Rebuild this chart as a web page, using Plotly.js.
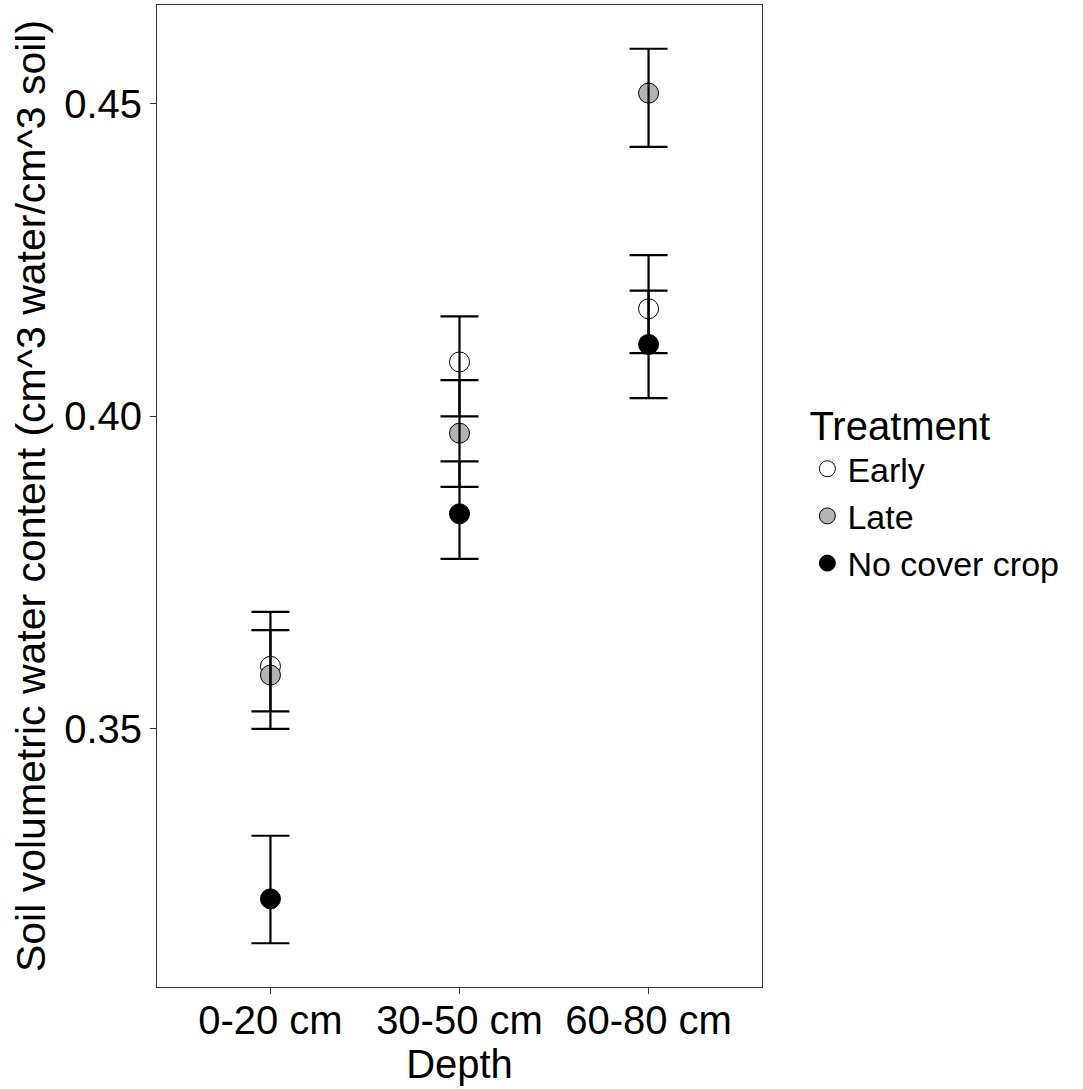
<!DOCTYPE html>
<html>
<head>
<meta charset="utf-8">
<script src="https://cdn.plot.ly/plotly-3.0.1.min.js"></script>
<style>html,body{margin:0;padding:0;background:#fff;}#chart{width:1083px;height:1089px;}</style>
</head>
<body>
<div id="chart"></div>
<script>
const depths = ['0-20 cm', '30-50 cm', '60-80 cm'];
const treatments = ['Early', 'Late', 'No cover crop'];
const earlyMean  = [0.3600, 0.4087, 0.4172];
const earlyUpper = [0.3687, 0.4160, 0.4258];
const earlyLower = [0.3528, 0.4000, 0.4101];
const lateMean   = [0.3586, 0.3973, 0.4517];
const lateUpper  = [0.3658, 0.4058, 0.4588];
const lateLower  = [0.3500, 0.3887, 0.4431];
const nccMean    = [0.3228, 0.3844, 0.4115];
const nccUpper   = [0.3329, 0.3928, 0.4201];
const nccLower   = [0.3157, 0.3772, 0.4029];
const yTicks = [0.35, 0.40, 0.45];
const yTickText = ['0.35', '0.40', '0.45'];

const fills = ['#ffffff', '#b3b3b3', '#000000'];
const series = [
  {mean: earlyMean, up: earlyUpper, lo: earlyLower},
  {mean: lateMean, up: lateUpper, lo: lateLower},
  {mean: nccMean, up: nccUpper, lo: nccLower}
];

const traces = [];
series.forEach((s, i) => {
  traces.push({
    type: 'scatter', mode: 'markers', name: treatments[i],
    x: depths, y: s.mean,
    marker: {size: 20, color: fills[i], line: {color: '#000', width: 1}},
    cliponaxis: false
  });
});
series.forEach((s, i) => {
  traces.push({
    type: 'scatter', mode: 'markers', showlegend: false, hoverinfo: 'skip',
    x: depths, y: s.mean,
    marker: {size: 0.1, color: 'rgba(0,0,0,0)'},
    error_y: {
      type: 'data', symmetric: false,
      array: s.up.map((u, k) => u - s.mean[k]),
      arrayminus: s.mean.map((m, k) => m - s.lo[k]),
      color: '#000', thickness: 2.2, width: 19
    }
  });
});

const font = {family: '"Liberation Sans", Arial, sans-serif', color: '#000'};
const layout = {
  width: 1083, height: 1089,
  margin: {l: 157, r: 321, t: 5, b: 102},
  paper_bgcolor: '#fff', plot_bgcolor: '#fff',
  font: Object.assign({size: 40}, font),
  showlegend: true,
  xaxis: {
    type: 'category', categoryorder: 'array', categoryarray: depths,
    range: [-0.6, 2.6], showgrid: false, zeroline: false,
    showline: true, mirror: true, linecolor: '#333', linewidth: 1,
    ticks: 'outside', ticklen: 6, tickwidth: 1, tickcolor: '#333',
    ticklabelstandoff: -8,
    tickfont: Object.assign({size: 40}, font),
    title: {text: 'Depth', font: Object.assign({size: 40}, font), standoff: 0},
    automargin: false
  },
  yaxis: {
    range: [0.3087, 0.4658], showgrid: false, zeroline: false,
    showline: true, mirror: true, linecolor: '#333', linewidth: 1,
    ticks: 'outside', ticklen: 6, tickwidth: 1, tickcolor: '#333',
    tickvals: yTicks, ticktext: yTickText,
    tickfont: Object.assign({size: 40}, font),
    title: {text: 'Soil volumetric water content (cm^3 water/cm^3 soil)', font: Object.assign({size: 41}, font), standoff: 5},
    automargin: false
  },
  legend: {
    x: 1.075, xanchor: 'left', y: 0.506, yanchor: 'middle',
    font: Object.assign({size: 34}, font),
    title: {text: 'Treatment', font: Object.assign({size: 40}, font)},
    bgcolor: 'rgba(0,0,0,0)', borderwidth: 0, tracegroupgap: 0
  }
};

Plotly.newPlot('chart', traces, layout, {displayModeBar: false, staticPlot: true});
</script>
</body>
</html>
